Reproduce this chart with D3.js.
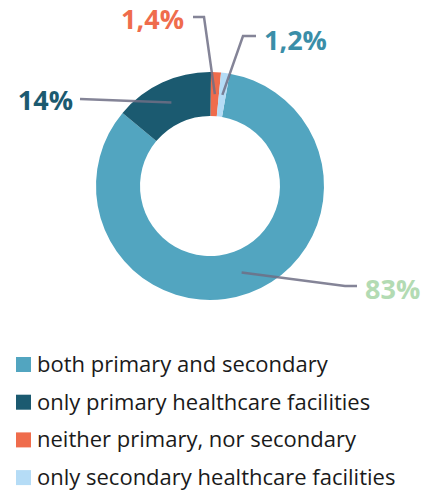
<!DOCTYPE html>
<html><head><meta charset="utf-8">
<script src="https://cdn.jsdelivr.net/npm/d3@7"></script>
<style>body{margin:0;background:#fff}svg{display:block}</style>
</head><body>
<script>
const categories = ["both primary and secondary","only primary healthcare facilities","neither primary, nor secondary","only secondary healthcare facilities"];
const values = [83, 14, 1.4, 1.2];
const labels = ["83%", "14%", "1,4%", "1,2%"];

const colors = ["#52a5c0", "#1b5a70", "#ef6c4c", "#b5dcf6"];
const labelColors = ["#b3dbb3", "#1b5a70", "#ef6c4c", "#3a8ea8"];
// label layout: elbow point, end point, text anchor position (relative to page)
const layout = [
  {elbow:[345,286], end:[357,286], text:[365,299], anchor:"start"},
  {elbow:[80,99], end:[80,99], text:[73,110], anchor:"end"},
  {elbow:[204,17], end:[193,17], text:[184,29], anchor:"end"},
  {elbow:[243,36], end:[256,36], text:[264,50], anchor:"start"}
];

const W = 427, H = 493, cx = 210, cy = 186, rOut = 114, rIn = 70;
const svg = d3.select("body").append("svg").attr("width", W).attr("height", H);
const deg = Math.PI/180;
const start = 9.9*deg;
const pie = d3.pie().sort(null).value(d=>d).startAngle(start).endAngle(start + 2*Math.PI);
const arcs = pie(values);
const arc = d3.arc().innerRadius(rIn).outerRadius(rOut);
const g = svg.append("g").attr("transform", `translate(${cx},${cy})`);
g.selectAll("path").data(arcs).join("path").attr("d", arc).attr("fill", (d,i)=>colors[i]);

const mid = d3.arc().innerRadius(92).outerRadius(92);
arcs.forEach((a,i)=>{
  const c = mid.centroid(a);
  const L = layout[i];
  const pts = [[cx+c[0], cy+c[1]], L.elbow, L.end];
  svg.append("path").attr("d", d3.line()(pts)).attr("fill","none")
    .attr("stroke","#6f6f85").attr("stroke-opacity",0.85).attr("stroke-width",2.5);
  svg.append("text").attr("x", L.text[0]).attr("y", L.text[1]).attr("text-anchor", L.anchor)
    .attr("font-family","'Open Sans', sans-serif").attr("font-weight","bold").attr("font-size",27)
    .attr("fill", labelColors[i]).text(labels[i]);
});

const leg = svg.append("g");
categories.forEach((c,i)=>{
  const y = 357 + i*37.7;
  leg.append("rect").attr("x",16).attr("y",y).attr("width",15).attr("height",15).attr("fill",colors[i]);
  leg.append("text").attr("x",37).attr("y",y+15).attr("font-family","'Open Sans', sans-serif")
    .attr("font-size",22).attr("fill","#1a1a1a").text(c);
});
</script>
</body></html>
